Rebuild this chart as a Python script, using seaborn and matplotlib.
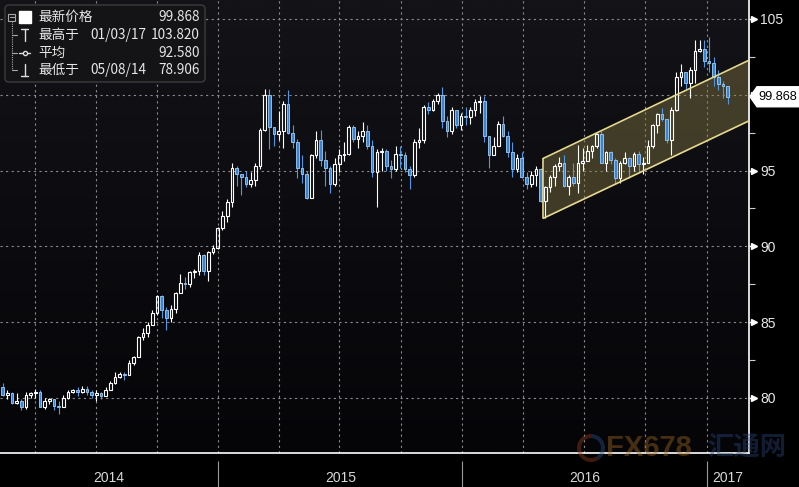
import numpy as np
import pandas as pd
import matplotlib
matplotlib.use('Agg')
import matplotlib.pyplot as plt
import matplotlib.dates as mdates
from matplotlib.patches import Rectangle, Polygon, FancyBboxPatch, Wedge
from matplotlib.lines import Line2D
from matplotlib.transforms import IdentityTransform
import seaborn as sns

# weekly candles (week ending Friday)
first_week = '2014-02-07'
first_open = 81.1

close_2014 = [80.7, 80.2, 80.3, 79.7, 79.8, 79.4, 80.2, 80.3, 80.4, 79.4, 79.8, 79.9,
              79.5, 79.4, 80.0, 80.4, 80.5, 80.4, 80.6, 80.4, 80.2, 80.3, 80.1, 80.5,
              81.0, 81.4, 81.6, 81.5, 82.3, 82.7, 84.0, 84.3, 84.8, 85.6, 86.7, 85.8,
              85.3, 85.9, 86.9, 87.6, 87.5, 88.3, 88.4, 89.4, 88.4, 89.6, 89.9]
high_2014 = [81.2, 81.0, 80.5, 80.4, 80.3, 79.9, 80.4, 80.4, 80.6, 80.5, 80.0, 80.0,
             79.9, 79.8, 80.2, 80.5, 80.6, 80.7, 80.8, 80.8, 80.5, 80.5, 80.4, 80.7,
             81.1, 81.7, 81.7, 81.7, 82.5, 82.8, 84.1, 84.6, 85.0, 85.8, 86.8, 86.8,
             86.0, 86.1, 87.0, 88.2, 88.0, 88.4, 88.5, 89.6, 89.5, 89.7, 90.1]
low_2014 = [80.6, 80.1, 79.9, 79.6, 79.6, 79.2, 79.3, 80.0, 80.0, 79.4, 79.3, 79.6,
            79.2, 78.91, 79.4, 79.9, 80.3, 80.1, 80.3, 80.2, 80.0, 79.8, 79.9, 80.1,
            80.5, 80.9, 81.3, 81.2, 81.5, 82.2, 82.7, 83.8, 84.0, 84.8, 85.5, 85.3,
            84.5, 85.0, 85.6, 86.9, 87.2, 87.3, 87.9, 88.1, 88.1, 87.7, 89.5]

close_2015 = [91.2, 92.0, 92.9, 95.2, 94.8, 94.6, 94.1, 94.4, 95.3, 97.7, 100.0, 97.9,
              97.4, 97.6, 99.4, 97.5, 96.9, 95.2, 94.8, 93.2, 96.0, 97.0, 95.7, 95.2,
              94.1, 95.4, 96.0, 96.1, 97.9, 97.1, 97.3, 97.6, 96.6, 94.9, 96.2, 96.3,
              95.3, 95.1, 96.1, 96.0, 95.1, 94.7, 96.9, 97.0, 99.2, 99.0, 99.6, 100.0,
              98.3, 97.6, 99.0, 98.0]
high_2015 = [91.3, 92.3, 93.1, 95.5, 95.3, 94.8, 95.0, 94.9, 95.5, 97.8, 100.4, 100.4,
             97.9, 98.9, 99.6, 100.3, 98.0, 97.1, 96.0, 95.0, 96.1, 97.6, 97.7, 96.3,
             95.3, 95.8, 96.4, 96.9, 98.0, 98.0, 97.6, 98.2, 98.0, 97.0, 96.4, 96.5,
             96.4, 95.7, 96.6, 96.6, 96.2, 95.3, 97.1, 97.8, 99.3, 99.5, 99.7, 100.1,
             100.5, 98.6, 99.2, 99.0]
low_2015 = [89.8, 91.1, 91.6, 92.6, 94.0, 93.4, 93.9, 93.9, 94.0, 95.1, 97.6, 96.4,
            96.6, 97.0, 96.5, 97.4, 96.5, 94.5, 94.2, 93.1, 93.2, 95.8, 95.3, 94.0,
            93.5, 94.0, 94.9, 95.6, 96.0, 96.9, 96.5, 96.9, 96.4, 94.6, 92.6, 95.0,
            95.0, 94.5, 95.0, 95.2, 94.9, 93.8, 94.6, 96.5, 96.8, 98.7, 98.9, 99.4,
            97.8, 97.2, 97.4, 97.8]

close_2016 = [98.6, 98.5, 99.0, 99.5, 99.6, 97.3, 96.0, 96.6, 98.1, 97.3, 96.2, 95.1,
              95.8, 94.6, 94.1, 94.7, 95.1, 93.0, 93.9, 94.6, 95.3, 95.5, 94.0, 94.6,
              94.2, 95.5, 95.6, 96.3, 96.6, 97.4, 95.5, 96.2, 95.7, 94.5, 95.5, 95.8,
              95.3, 96.1, 95.4, 95.5, 96.6, 98.0, 98.7, 98.4, 97.0, 99.0, 101.2, 101.5,
              100.8, 101.6, 102.9, 103.0, 102.2]
high_2016 = [98.8, 99.2, 99.2, 99.7, 99.9, 99.9, 97.3, 97.2, 98.3, 98.6, 97.6, 96.9,
             96.1, 96.2, 94.9, 95.0, 95.3, 95.2, 94.0, 94.7, 95.4, 95.9, 96.0, 94.7,
             95.5, 96.7, 96.5, 96.7, 96.7, 97.5, 97.6, 96.3, 96.3, 95.8, 95.6, 96.2,
             95.9, 96.2, 96.3, 95.9, 97.0, 98.1, 98.8, 99.1, 98.4, 99.2, 101.5, 102.0,
             101.5, 101.8, 103.6, 103.6, 103.6]
low_2016 = [97.7, 98.0, 98.1, 98.6, 98.8, 96.9, 95.2, 96.0, 96.6, 97.2, 95.9, 94.6,
            94.9, 94.5, 93.8, 93.9, 94.0, 92.9, 91.9, 93.6, 94.0, 95.0, 93.9, 93.4,
            94.0, 93.5, 95.0, 95.6, 95.8, 96.5, 95.5, 95.0, 95.4, 94.1, 94.2, 95.4,
            94.5, 95.0, 94.9, 94.8, 95.5, 96.5, 97.5, 98.3, 96.8, 96.0, 98.9, 100.6,
            100.4, 99.8, 100.8, 102.8, 101.8]

close_2017 = [102.1, 101.2, 100.7, 100.6, 99.868]
high_2017 = [103.82, 102.5, 101.6, 100.9, 100.6]
low_2017 = [101.5, 100.6, 100.3, 99.8, 99.4]

# trend channel drawn on the chart
channel_dates = ['2016-05-01', '2017-03-06']
channel_upper = [95.8, 102.3]
channel_lower = [91.85, 98.3]

legend_names = ['最新价格', '最高于', '平均', '最低于']
legend_dates = ['', '01/03/17', '', '05/08/14']
legend_values = ['99.868', '103.820', '92.580', '78.906']
last_price = 99.868

year_labels = ['2014', '2015', '2016', '2017']
y_ticks = [80, 85, 90, 95, 100, 105]
watermark = ['FX678', '汇通网']

# ---- build candles
week_close = close_2014 + close_2015 + close_2016 + close_2017
week_high = high_2014 + high_2015 + high_2016 + high_2017
week_low = low_2014 + low_2015 + low_2016 + low_2017

weeks = pd.date_range(first_week, periods=len(week_close), freq='W-FRI')
centers = weeks - pd.Timedelta(days=2)
c = np.array(week_close)
o = np.r_[first_open, c[:-1]]
hi = np.maximum(np.array(week_high), np.maximum(o, c))
lo = np.minimum(np.array(week_low), np.minimum(o, c))
body_lo = np.minimum(o, c)
body_hi = np.maximum(o, c)
body_h = np.maximum(body_hi - body_lo, 0.06)
up = c >= o

sns.set_style('dark')
plt.rcParams['font.family'] = ['Noto Sans CJK SC', 'DejaVu Sans']
num_font = ['Liberation Sans', 'DejaVu Sans']

W, H = 799, 487
bg = '#0b0b11'
fig = plt.figure(figsize=(W / 100, H / 100), dpi=100, facecolor='#000000')
ax = fig.add_axes([0, 34 / H, 749 / W, 453 / H])
ax.set_facecolor(bg)

# subtle vertical shading of the plot background
grad = np.linspace(0, 1, 256).reshape(-1, 1)
ax.imshow(grad, extent=[0, 1, 0, 1], transform=ax.transAxes, aspect='auto',
          cmap=matplotlib.colors.LinearSegmentedColormap.from_list('bgc', ['#050508', '#131318']),
          origin='lower', zorder=0)

# channel
ch = pd.DataFrame({'date': pd.to_datetime(channel_dates),
                   'upper': channel_upper, 'lower': channel_lower})
ax.fill_between(ch['date'], ch['lower'], ch['upper'], color='#8a7d45', alpha=0.42,
                lw=0, zorder=1)

# candles: wicks then bodies
for mask, col in [(up, 'white'), (~up, '#4f98e6')]:
    ax.vlines(centers[mask], lo[mask], body_lo[mask], color=col, lw=0.8, zorder=3)
    ax.vlines(centers[mask], body_lo[mask] + body_h[mask], hi[mask], color=col, lw=0.8, zorder=3)
ax.bar(centers[up], body_h[up], bottom=body_lo[up], width=4.0, facecolor='none',
       edgecolor='white', linewidth=0.8, zorder=4)
ax.bar(centers[~up], body_h[~up], bottom=body_lo[~up], width=4.0, facecolor='#3a84d6',
       edgecolor='#9fd0f8', linewidth=0.6, zorder=4)

sns.lineplot(data=ch, x='date', y='upper', ax=ax, color='#e6d98f', lw=1.2, zorder=5)
sns.lineplot(data=ch, x='date', y='lower', ax=ax, color='#e6d98f', lw=1.2, zorder=5)
ax.vlines(ch['date'].iloc[0], ch['lower'].iloc[0], ch['upper'].iloc[0],
          color='#e6d98f', lw=1.2, zorder=5)

ax.set_xlabel('')
ax.set_ylabel('')
x0 = pd.Timestamp('2014-02-08')
x1 = pd.Timestamp('2017-03-05')
ax.set_xlim(x0, x1)
ax.set_ylim(76.37, 106.25)

# grid & ticks
ax.xaxis.set_major_locator(mdates.MonthLocator(bymonth=(1, 4, 7, 10)))
ax.xaxis.set_minor_locator(mdates.MonthLocator())
ax.set_yticks(y_ticks)
ax.set_yticks([82.5, 87.5, 92.5, 97.5, 102.5], minor=True)
ax.grid(True, which='major', color='#8a8a8a', linestyle=(0, (2, 3)), lw=0.8)
ax.tick_params(axis='x', which='both', direction='inout', length=5, width=0.8,
               color='white', labelbottom=False)
ax.yaxis.tick_right()
ax.tick_params(axis='y', which='major', direction='out', length=3, width=1,
               color='white', pad=5, labelsize=10, labelcolor='#e8e8e8')
ax.tick_params(axis='y', which='minor', direction='out', length=4, width=0.8,
               color='#cccccc')
ax.set_yticklabels(['' if t == 100 else str(t) for t in y_ticks], family=num_font)
ax.plot([1.007] * len(y_ticks), y_ticks, transform=ax.get_yaxis_transform(),
        marker='>', ms=4, color='white', ls='none', clip_on=False)

for side in ['left', 'top']:
    ax.spines[side].set_visible(False)
for side in ['right', 'bottom']:
    ax.spines[side].set_visible(True)
    ax.spines[side].set_color('white')
    ax.spines[side].set_linewidth(1.2)

# year labels + separators
year_starts = [pd.Timestamp(f'{y}-01-01') for y in (2015, 2016, 2017)]
edges = [x0] + year_starts + [x1]
xt = ax.get_xaxis_transform()
for i, lab in enumerate(year_labels):
    mid = edges[i] + (edges[i + 1] - edges[i]) / 2
    ax.text(mid, -0.055, lab, transform=xt, ha='center', va='center', fontsize=10,
            color='#d8d8d8', family=num_font)
ax.vlines(year_starts, -0.018, -0.076, transform=xt, color='#9a9a9a', lw=0.8,
          clip_on=False)

# ---- overlays in pixel coordinates (origin top-left)
idt = IdentityTransform()
def P(x, y):
    return (x, H - y)

# watermark
fig.patches.append(Wedge(P(591, 448), 14, 90, 300, width=4, transform=idt,
                         facecolor='#8a3a1c', alpha=0.45, edgecolor='none'))
fig.patches.append(Wedge(P(591, 448), 14, 300, 90, width=4, transform=idt,
                         facecolor='#2a4a80', alpha=0.45, edgecolor='none'))
fig.text(*P(606, 448), watermark[0], transform=idt, fontsize=21, weight='bold',
         color='#a0681e', alpha=0.42, va='center', ha='left', family=num_font)
fig.text(*P(707, 448), watermark[1], transform=idt, fontsize=19, weight='bold',
         color='#27467a', alpha=0.42, va='center', ha='left')

# legend box
box = FancyBboxPatch(P(5, 82), 200, 77, boxstyle='round,pad=0,rounding_size=4',
                     transform=idt, facecolor='#141416', edgecolor='#3c3c3c', lw=1)
fig.patches.append(box)
rows = [17, 35, 53, 70]
gray = '#a8a8a8'
fig.patches.append(Rectangle(P(8, 20.5), 7, 7, transform=idt, fill=False,
                             edgecolor=gray, lw=0.8))
fig.lines.append(Line2D([9.5, 13.5], [H - 17, H - 17], transform=idt, color=gray, lw=0.8))
fig.patches.append(Rectangle(P(19, 23), 12, 12, transform=idt, facecolor='white',
                             edgecolor='white'))
fig.lines.append(Line2D([11.5, 11.5], [H - 21, H - 70], transform=idt, color=gray,
                        lw=0.8, ls=(0, (1, 1))))
for r in rows[1:]:
    fig.lines.append(Line2D([11.5, 17], [H - r, H - r], transform=idt, color=gray, lw=0.8))
fig.lines.append(Line2D([24.5, 24.5], [H - 29, H - 41], transform=idt, color='#dddddd', lw=1))
fig.lines.append(Line2D([21, 28], [H - 29, H - 29], transform=idt, color='#dddddd', lw=1))
fig.lines.append(Line2D([19, 30], [H - 53, H - 53], transform=idt, color='#dddddd', lw=1))
fig.lines.append(Line2D([24.5], [H - 53], transform=idt, color='#dddddd', marker='o',
                        ms=3, mfc='#141416'))
fig.lines.append(Line2D([24.5, 24.5], [H - 64, H - 76], transform=idt, color='#dddddd', lw=1))
fig.lines.append(Line2D([21, 28], [H - 76, H - 76], transform=idt, color='#dddddd', lw=1))
for r, name, d, v in zip(rows, legend_names, legend_dates, legend_values):
    fig.text(*P(38, r), name, transform=idt, fontsize=9.8, color='#e6e6e6',
             va='center', ha='left')
    if d:
        fig.text(*P(90, r), d, transform=idt, fontsize=9.8, color='#e6e6e6',
                 va='center', ha='left')
    fig.text(*P(200, r), v, transform=idt, fontsize=9.8, color='#e6e6e6',
             va='center', ha='right')

# last price tag
yp = ax.transData.transform((mdates.date2num(x1), last_price))[1]
fig.patches.append(Polygon([(750, yp), (757, yp + 10), (799, yp + 10), (799, yp - 10),
                            (757, yp - 10)], closed=True, transform=idt,
                           facecolor='white', edgecolor='white'))
fig.text(758, yp, f'{last_price:.3f}', transform=idt, fontsize=9.2, color='black',
         va='center', ha='left', family=num_font)

fig.savefig('out.png', dpi=100, facecolor=fig.get_facecolor())
